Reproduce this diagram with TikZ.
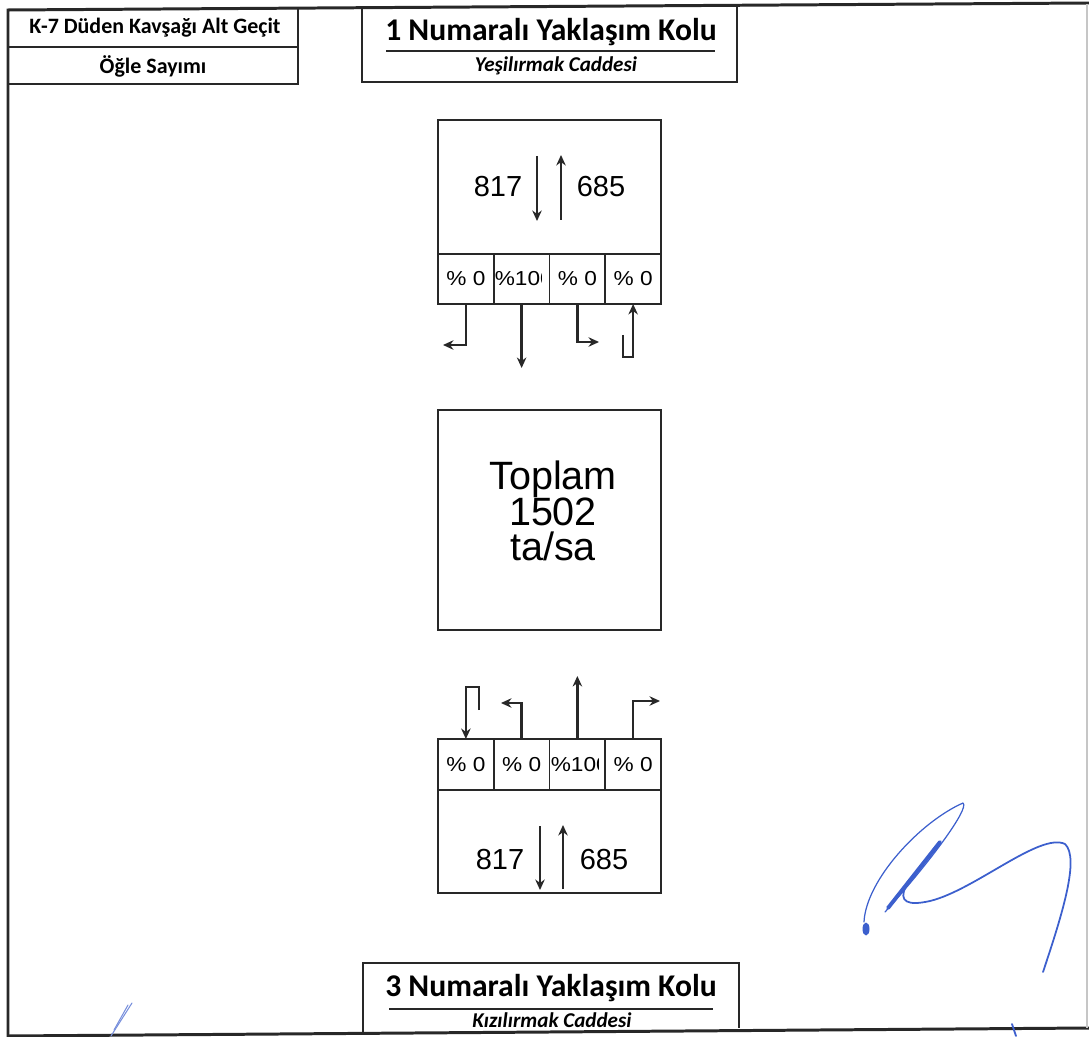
\documentclass[tikz,border=0pt]{standalone}
\usepackage{fontspec}
\setmainfont{Liberation Sans}
\newfontfamily\carl{Carlito}
\usetikzlibrary{arrows.meta}
\definecolor{sig}{RGB}{60,95,205}
\definecolor{ink}{RGB}{40,40,40}
\tikzset{
  frame/.style={draw=ink, line width=1.7pt},
  box/.style={draw=ink, line width=0.9pt, inner sep=0pt, outer sep=0pt},
  cell/.style={box, minimum width=1.115cm, minimum height=1.0cm},
  lcell/.style={box, minimum width=1.115cm, minimum height=1.02cm},
  pct/.style={font=\fontsize{11.5}{13}\selectfont, inner sep=0pt},
  num/.style={font=\fontsize{16.5}{18}\selectfont},
  arr/.style={draw=ink, line width=1.3pt, -{Stealth[length=2.1mm,width=1.9mm]}},
  hdr/.style={font=\carl\bfseries\fontsize{12.5}{14}\selectfont},
  ttl/.style={font=\carl\bfseries\fontsize{18}{20}\selectfont},
  sub/.style={font=\carl\bfseries\itshape\fontsize{12}{14}\selectfont},
  sigline/.style={draw=sig, line cap=round, line join=round}
}
\newcommand{\pc}[1]{\scalebox{1.12}[1]{#1}}
\begin{document}
\begin{tikzpicture}[x=0.02cm,y=-0.02cm]
\useasboundingbox (0,0) rectangle (1089,1037);
% outer frame
\draw[frame] (1089,3) -- (8,10) -- (8,1036) -- (1089,1028);
\draw[gray!45, line width=0.6pt] (1087,4) -- (1087,1028);

% header box
\draw[box] (8,47) -- (298,47);
\draw[box] (298,9) -- (298,84) -- (8,84);
\node[hdr] (h1) at (155,28) {K-7 Düden Kavşağı Alt Geçit};
\node[hdr] (h2) at (153,66) {Öğle Sayımı};

% top title
\draw[box] (362,8) -- (362,82) -- (737,82) -- (737,5);
\node[ttl] (t1) at (551,32) {1 Numaralı Yaklaşım Kolu};
\draw[ink, line width=0.9pt] (386,51) -- (715,51);
\node[sub] (s1) at (556,66) {Yeşilırmak Caddesi};

% upper approach
\node[box, minimum width=4.46cm, minimum height=2.68cm] (up) at (549.5,187) {};
\node[num] (un1) at (498,187) {817};
\node[num] (un2) at (601,187) {685};
\coordinate (ua1) at (537,156); \coordinate (ua2) at (537,221);
\coordinate (ub1) at (561,220); \coordinate (ub2) at (561,155);
\draw[arr] (ua1) -- (ua2);
\draw[arr] (ub1) -- (ub2);
\node[cell] (u1) at (465.875,279) {};
\node[cell] (u2) at (521.625,279) {};
\node[cell] (u3) at (577.375,279) {};
\node[cell] (u4) at (633.125,279) {};
\node[pct] at (u1) {\pc{\% 0}};
\begin{scope}
\clip (494,255) rectangle (541,303);
\node[pct, anchor=west] (u2t) at (494.5,279) {\pc{\%100}};
\end{scope}
\node[pct] at (u3) {\pc{\% 0}};
\node[pct] at (u4) {\pc{\% 0}};
\coordinate (u1e) at (443,345);
\coordinate (u2e) at (521.625,368);
\coordinate (u3e) at (599,342);
\coordinate (u4s) at (623,335);
\draw[arr] (u1.south) |- (u1e);
\draw[arr] (u2.south) -- (u2e);
\draw[arr] (u3.south) |- (u3e);
\draw[arr] (u4s) -- ++(0,22) -| (u4.south);

% total
\node[box, minimum width=4.46cm, minimum height=4.4cm] (tot) at (549.5,520) {};
\node[font=\fontsize{22.5}{20.4}\selectfont, align=center] (totl) at (553,511) {Toplam\\1502\\ta/sa};

% lower approach
\node[lcell] (l1) at (465.875,764.5) {};
\node[lcell] (l2) at (521.625,764.5) {};
\node[lcell] (l3) at (577.375,764.5) {};
\node[lcell] (l4) at (633.125,764.5) {};
\node[pct] at (l1) {\pc{\% 0}};
\node[pct] at (l2) {\pc{\% 0}};
\begin{scope}
\clip (550,740) rectangle (598,789);
\node[pct, anchor=west] (l3t) at (550.5,764.5) {\pc{\%100}};
\end{scope}
\node[pct] at (l4) {\pc{\% 0}};
\node[box, minimum width=4.46cm, minimum height=2.06cm] (lo) at (549.5,841.5) {};
\node[num] (ln1) at (500,860) {817};
\node[num] (ln2) at (604,860) {685};
\coordinate (la1) at (540,826); \coordinate (la2) at (540,890);
\coordinate (lb1) at (563,889); \coordinate (lb2) at (563,825);
\draw[arr] (la1) -- (la2);
\draw[arr] (lb1) -- (lb2);
\coordinate (l1s) at (479,710);
\coordinate (l2e) at (501,703);
\coordinate (l3e) at (577.375,676);
\coordinate (l4e) at (660,701);
\draw[arr] (l1s) -- ++(0,-23) -| (l1.north);
\draw[arr] (l2.north) |- (l2e);
\draw[arr] (l3.north) -- (l3e);
\draw[arr] (l4.north) |- (l4e);

% bottom title
\draw[box] (363,1033) -- (363,963) -- (739,963) -- (739,1028);
\node[ttl] (t3) at (551,988) {3 Numaralı Yaklaşım Kolu};
\draw[ink, line width=0.9pt] (389,1009) -- (713,1009);
\node[sub] (s3) at (552,1020) {Kızılırmak Caddesi};

% signature
\draw[sigline, line width=0.7pt] (864,922) .. controls (866,880) and (920,822) .. (963,803)
  .. controls (970,808) and (930,862) .. (885,912);
\draw[sigline, line width=2.2pt] (940,842) -- (888,908);
\draw[sigline, line width=1pt] (906,886) .. controls (898,902) and (908,906) .. (930,901)
  .. controls (975,890) and (1040,832) .. (1065,844)
  .. controls (1080,858) and (1062,915) .. (1043,972);
\fill[sig] (866,929) ellipse (3.5 and 6.5);
\draw[sigline, line width=1pt] (1012,1024) -- (1016,1036);
\draw[sigline, line width=0.6pt, sig!70] (132,1003) -- (111,1036);
\draw[sigline, line width=0.6pt, sig!70] (128,1005) -- (114,1030);
\end{tikzpicture}
\end{document}
